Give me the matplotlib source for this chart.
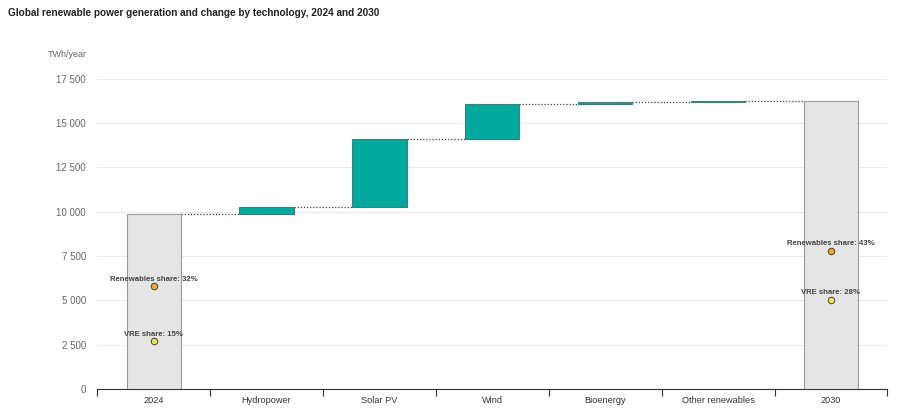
import numpy as np
import matplotlib.pyplot as plt
from matplotlib.ticker import FuncFormatter, FixedLocator

categories = ["2024", "Hydropower", "Solar PV", "Wind", "Bioenergy", "Other renewables", "2030"]
start_total = 9900
changes = [350, 3850, 2000, 120, 30]
end_total = 16250

share_labels_2024 = ["Renewables share: 32%", "VRE share: 15%"]
share_values_2024 = [5800, 2700]
share_labels_2030 = ["Renewables share: 43%", "VRE share: 28%"]
share_values_2030 = [7800, 5050]

TEAL = "#00a99d"
GREY_BAR = "#e5e5e5"

plt.rcParams['font.family'] = ['Liberation Sans', 'DejaVu Sans']

fig = plt.figure(figsize=(9, 4.17), dpi=100)
ax = fig.add_axes([0.108, 0.067, 0.878, 0.744])

x = np.arange(len(categories))
w = 0.48

# totals
ax.bar(x[0], start_total, width=w, color=GREY_BAR, edgecolor="#9a9a9a", linewidth=0.8, zorder=3)
ax.bar(x[-1], end_total, width=w, color=GREY_BAR, edgecolor="#9a9a9a", linewidth=0.8, zorder=3)

# changes
level = start_total
levels = [level]
for i, c in enumerate(changes):
    ax.bar(x[i + 1], c, bottom=level, width=w, color=TEAL, edgecolor="#3f7f7a", linewidth=0.8, zorder=3)
    level += c
    levels.append(level)

# connectors
for i in range(len(categories) - 1):
    ax.plot([x[i] + w / 2, x[i + 1] - w / 2], [levels[min(i, len(levels) - 1)]] * 2,
            linestyle=(0, (1, 1.5)), color="#444444", linewidth=0.9, zorder=2)

# share markers
for xi, labels, vals in [(x[0], share_labels_2024, share_values_2024),
                         (x[-1], share_labels_2030, share_values_2030)]:
    for j, (lab, v) in enumerate(zip(labels, vals)):
        col = "#f5a623" if j == 0 else "#f2e63a"
        ax.scatter([xi], [v], s=22, color=col, edgecolor="#444444", linewidth=0.7, zorder=5)
        ax.text(xi, v + 200, lab, ha="center", va="bottom", fontsize=5.6,
                fontweight="bold", color="#444444", zorder=6)

ax.set_xlim(-0.5, len(categories) - 0.5)
ax.set_ylim(0, 17500)
ax.yaxis.set_major_locator(FixedLocator(np.arange(0, 17501, 2500)))
ax.yaxis.set_major_formatter(FuncFormatter(lambda v, p: "{:,.0f}".format(v).replace(",", " ")))
ax.grid(axis="y", color="#ebebeb", linewidth=0.8, zorder=0)
ax.tick_params(axis="y", length=0, labelsize=7, labelcolor="#666666", pad=8)

ax.set_xticks(x)
ax.set_xticklabels(categories)
ax.tick_params(axis="x", length=0, labelsize=6.6, labelcolor="#333333", pad=5)
ax.set_xticks(np.arange(-0.5, len(categories), 1), minor=True)
ax.tick_params(axis="x", which="minor", length=5, color="#333333", width=0.8)

for s in ["top", "right", "left"]:
    ax.spines[s].set_visible(False)
ax.spines["bottom"].set_color("#333333")
ax.spines["bottom"].set_linewidth(0.8)

fig.text(0.096, 0.870, "TWh/year", fontsize=6.5, color="#666666", ha="right", va="center")
fig.text(0.009, 0.968, "Global renewable power generation and change by technology, 2024 and 2030",
         fontsize=7.2, fontweight="bold", color="#222222", va="center")

fig.savefig("out.png", dpi=100)
